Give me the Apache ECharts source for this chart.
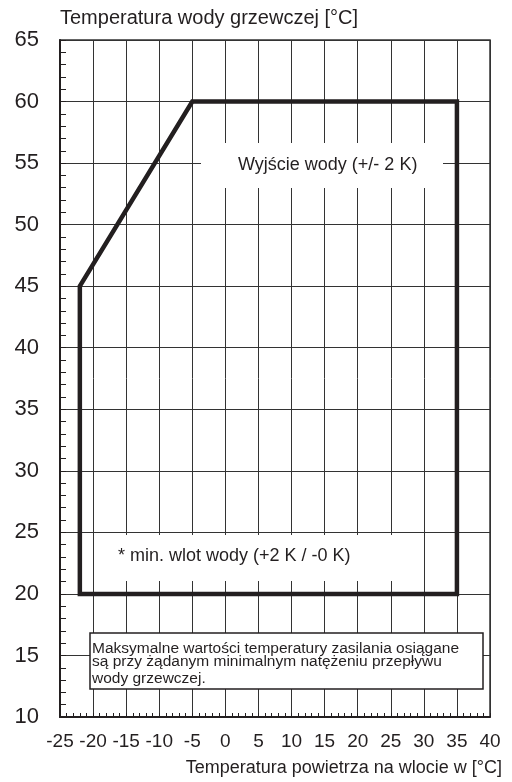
<!DOCTYPE html>
<html>
<head>
<meta charset="utf-8">
<script src="https://cdn.jsdelivr.net/npm/echarts@6/dist/echarts.min.js"></script>
<style>
html,body{margin:0;padding:0;background:#fff;}
#c{width:512px;height:782px;}
</style>
</head>
<body>
<div id="c"></div>
<script>
// Data
const boundaryX = [-22, -22, -5, 35, 35, -22];
const boundaryY = [20, 45, 60, 60, 20, 20];
const xRange = [-25, 40];
const yRange = [10, 65];
const tickStep = 5;
const yTitle = 'Temperatura wody grzewczej [°C]';
const xTitle = 'Temperatura powietrza na wlocie w [°C]';
const outLabel = 'Wyjście wody (+/- 2 K)';
const inLabel = '* min. wlot wody (+2 K / -0 K)';
const noteLines = [
  'Maksymalne wartości temperatury zasilania osiągane',
  'są przy żądanym minimalnym natężeniu przepływu',
  'wody grzewczej.'
];

const FONT = '"Liberation Sans", Arial, Helvetica, sans-serif';
const INK = '#231f20';

const chart = echarts.init(document.getElementById('c'), null, {renderer: 'canvas'});
const pts = boundaryX.map((x, i) => [x, boundaryY[i]]);

chart.setOption({
  animation: false,
  backgroundColor: '#fff',
  grid: {left: 60, top: 40, right: 22, bottom: 65, show: true, borderColor: '#333', borderWidth: 1.5, backgroundColor: 'transparent'},
  xAxis: {
    type: 'value', min: xRange[0], max: xRange[1], interval: tickStep,
    axisLine: {show: true, onZero: false, lineStyle: {color: INK, width: 2}},
    axisTick: {show: true, inside: true, length: 4, lineStyle: {color: INK, width: 1}},
    minorTick: {show: true, splitNumber: 5, length: 4, lineStyle: {color: INK, width: 1}},
    splitLine: {show: true, lineStyle: {color: '#333', width: 1}},
    axisLabel: {fontSize: 19, color: INK, fontFamily: FONT, margin: 15}
  },
  yAxis: {
    type: 'value', min: yRange[0], max: yRange[1], interval: tickStep,
    axisLine: {show: true, onZero: false, lineStyle: {color: INK, width: 2}},
    axisTick: {show: true, inside: true, length: 6, lineStyle: {color: INK, width: 1}},
    minorTick: {show: true, splitNumber: 5, length: 6, lineStyle: {color: INK, width: 1}},
    splitLine: {show: true, lineStyle: {color: '#333', width: 1}},
    axisLabel: {fontSize: 22, color: INK, fontFamily: FONT, margin: 21}
  },
  series: [{
    type: 'line', data: pts, z: 10, symbol: 'none',
    lineStyle: {color: INK, width: 4.5, join: 'miter', cap: 'square'}
  }],
  graphic: [
    {type: 'text', z: 20, left: 60, top: 8, style: {text: yTitle, font: '20px ' + FONT, fill: INK}},
    {type: 'text', z: 20, right: 10, top: 759, style: {text: xTitle, font: '18px ' + FONT, fill: INK}},
    {type: 'rect', z: 5, shape: {x: 201, y: 143, width: 242, height: 45}, style: {fill: '#fff'}},
    {type: 'text', z: 20, x: 238, y: 165.5, style: {text: outLabel, font: '18px ' + FONT, fill: INK, textVerticalAlign: 'middle'}},
    {type: 'rect', z: 5, shape: {x: 108, y: 535, width: 292, height: 46}, style: {fill: '#fff'}},
    {type: 'text', z: 20, x: 118, y: 556.5, style: {text: inLabel, font: '18px ' + FONT, fill: INK, textVerticalAlign: 'middle'}},
    {type: 'rect', z: 5, shape: {x: 90, y: 633, width: 393, height: 56}, style: {fill: '#fff', stroke: INK, lineWidth: 1.5}},
    {type: 'text', z: 20, x: 92, y: 648.6, style: {text: noteLines[0], font: '15.5px ' + FONT, fill: INK, textVerticalAlign: 'middle'}},
    {type: 'text', z: 20, x: 92, y: 661.6, style: {text: noteLines[1], font: '15.5px ' + FONT, fill: INK, textVerticalAlign: 'middle'}},
    {type: 'text', z: 20, x: 92, y: 678.6, style: {text: noteLines[2], font: '15.5px ' + FONT, fill: INK, textVerticalAlign: 'middle'}}
  ]
});
</script>
</body>
</html>
